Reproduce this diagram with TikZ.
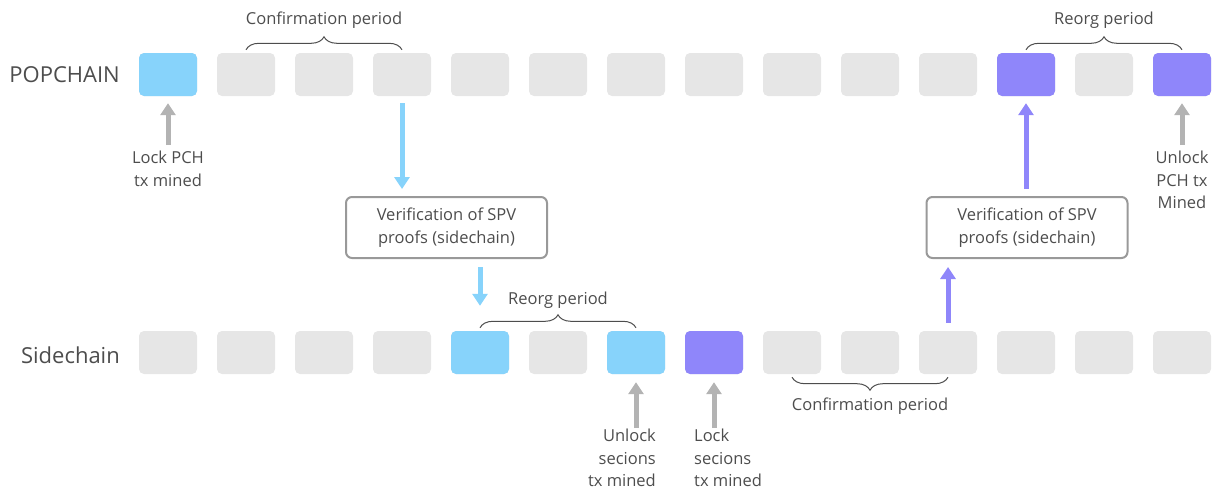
\documentclass[tikz,border=0pt]{standalone}
\usepackage{fontspec}
\setmainfont{Open Sans}
\usetikzlibrary{positioning,arrows.meta,decorations.pathreplacing}
\definecolor{blkgray}{HTML}{E6E6E6}
\definecolor{blkblue}{HTML}{87D3FB}
\definecolor{blkpurple}{HTML}{8F86FA}
\definecolor{arrgray}{HTML}{B3B3B3}
\definecolor{txtgray}{HTML}{4D4D4D}
\definecolor{boxgray}{HTML}{999999}
\begin{document}
\begin{tikzpicture}[x=1pt, y=-1pt, >={Triangle[width=15pt,length=12pt]}, font=\fontsize{16.5}{22.5}\selectfont, text=txtgray]
\tikzstyle{blk}=[fill=blkgray, rounded corners=5pt, minimum width=58pt, minimum height=43pt, inner sep=0pt]
\tikzstyle{lbl}=[inner sep=0pt, align=center]
\tikzstyle{chain}=[inner sep=0pt, anchor=east, font=\fontsize{22}{26}\selectfont]
\tikzstyle{verif}=[draw=boxgray, line width=2pt, rounded corners=6pt, minimum width=201pt, minimum height=61pt, align=center]
\tikzstyle{garr}=[->, arrgray, line width=5pt]
\tikzstyle{barr}=[->, blkblue, line width=5pt]
\tikzstyle{parr}=[->, blkpurple, line width=5pt]
\tikzstyle{brc}=[draw=txtgray, line width=1pt, decorate, decoration={brace, amplitude=13pt}]
\useasboundingbox (0,0) rectangle (1213,493);

\node[chain] (pop) at (120,75) {POPCHAIN};
\node[chain] (side) at (120,355) {Sidechain};
\foreach \i in {1,...,14} {
  \node[blk] (p\i) at ({168+78*(\i-1)},74.5) {};
  \node[blk] (s\i) at ({168+78*(\i-1)},352.5) {};
}
\node[blk, fill=blkblue] at (p1) {};
\node[blk, fill=blkpurple] at (p12) {};
\node[blk, fill=blkpurple] at (p14) {};
\node[blk, fill=blkblue] at (s5) {};
\node[blk, fill=blkblue] at (s7) {};
\node[blk, fill=blkpurple] at (s8) {};

\draw[brc] ([yshift=3pt]p2.north) -- ([yshift=3pt]p4.north) node[lbl, midway, above=21pt] {Confirmation period};
\draw[brc] ([yshift=3pt]p12.north) -- ([yshift=3pt]p14.north) node[lbl, midway, above=21pt] {Reorg period};
\draw[brc] ([yshift=3pt]s5.north) -- ([yshift=3pt]s7.north) node[lbl, midway, above=19pt] {Reorg period};
\draw[brc] ([yshift=-3pt]s11.south) -- ([yshift=-3pt]s9.south) node[lbl, midway, below=20pt] {Confirmation period};

\node[verif] (ver1) at (446.5,227.5) {Verification of SPV\\proofs (sidechain)};
\node[verif] (ver2) at (1027,227.5) {Verification of SPV\\proofs (sidechain)};

\node[lbl, anchor=north] (lockpch) at (168,151) {Lock PCH\\tx mined};
\node[lbl, anchor=north] (unlockpch) at (1182,151) {Unlock\\PCH tx\\Mined};
\node[lbl, align=right, anchor=north east] (unlocksec) at (656,429) {Unlock\\secions\\tx mined};
\node[lbl, align=left, anchor=north west] (locksec) at (694,429) {Lock\\secions\\tx mined};

\draw[garr, shorten <=6pt, shorten >=7pt] (lockpch.north) -- (p1.south);
\draw[garr, shorten <=6pt, shorten >=7pt] (unlockpch.north) -- (p14.south);
\draw[garr, shorten <=1pt, shorten >=8pt] (s7 |- unlocksec.north) -- (s7.south);
\draw[garr, shorten <=1pt, shorten >=8pt] (s8 |- locksec.north) -- (s8.south);

\draw[barr, shorten <=7pt, shorten >=7pt] (p4.south) -- (p4.south |- ver1.north);
\draw[barr, shorten <=8pt] (s5 |- ver1.south) -- ([yshift=25pt]s5.north);
\draw[parr, shorten <=8pt, shorten >=8pt] (s11.north) -- (s11.north |- ver2.south);
\draw[parr, shorten <=7pt, shorten >=7pt] (p12.south |- ver2.north) -- (p12.south);
\end{tikzpicture}
\end{document}
